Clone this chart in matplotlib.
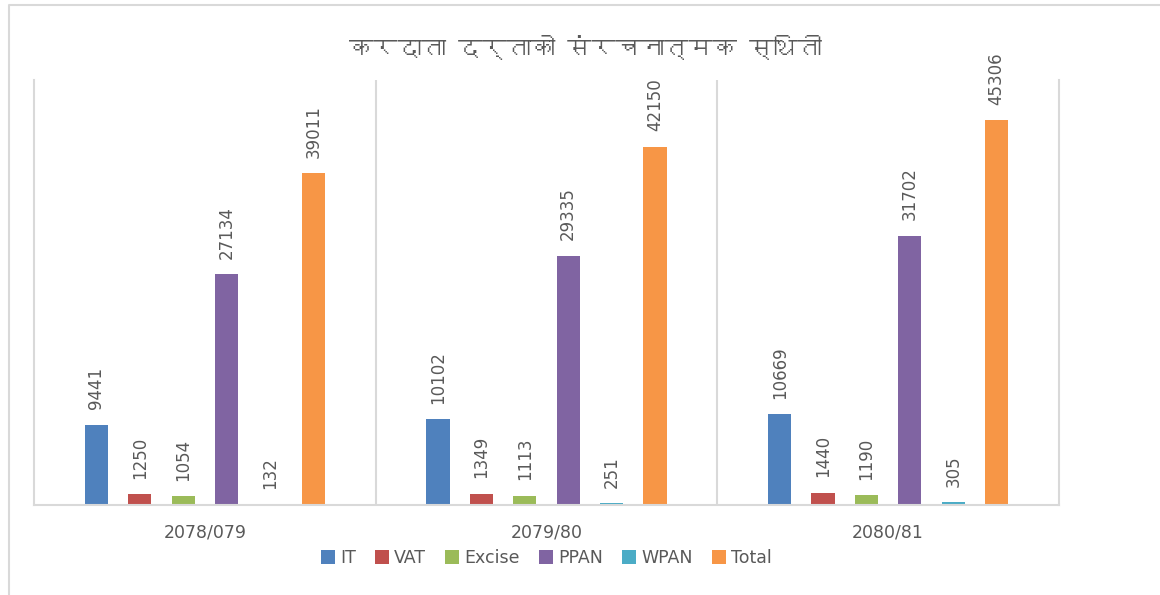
import matplotlib
matplotlib.use("Agg")
import matplotlib.pyplot as plt
from matplotlib import font_manager
from matplotlib.ft2font import FT2Font
from matplotlib.lines import Line2D
import numpy as np

years = ["2078/079", "2079/80", "2080/81"]
series = ["IT", "VAT", "Excise", "PPAN", "WPAN", "Total"]
it = [9441, 10102, 10669]
vat = [1250, 1349, 1440]
excise = [1054, 1113, 1190]
ppan = [27134, 29335, 31702]
wpan = [132, 251, 305]
total = [39011, 42150, 45306]
colors = ["#4F81BD", "#C0504D", "#9BBB59", "#8064A2", "#4BACC6", "#F79646"]
title = "करदाता दर्ताको संरचनात्मक स्थिती"

# find a font that can draw Devanagari, if any
deva = None
for f in font_manager.fontManager.ttflist:
    try:
        if FT2Font(f.fname).get_char_index(ord("क")):
            deva = f.name
            break
    except Exception:
        pass

grey = "#595959"
line = "#d9d9d9"

fig = plt.figure(figsize=(11.6, 5.95), dpi=100)
ax = fig.add_axes([34 / 1160, 1 - 505 / 595, 1025 / 1160, 425 / 595])

x = np.arange(len(years))
step = 0.127
width = 0.068
for i, (name, vals) in enumerate(zip(series, [it, vat, excise, ppan, wpan, total])):
    pos = x + (i - 2.5) * step
    bars = ax.bar(pos, vals, width, color=colors[i], label=name)
    for b, v in zip(bars, vals):
        ax.annotate(str(v), (b.get_x() + b.get_width() / 2, v), xytext=(0, 11),
                    textcoords="offset points", rotation=90, ha="center", va="bottom",
                    fontsize=12, color=grey)

ax.set_xlim(-0.5, 2.5)
ax.set_ylim(0, 50000)
ax.set_yticks([])
ax.set_xticks(x)
ax.set_xticklabels(years, fontsize=12.5, color=grey)
ax.tick_params(axis="x", length=0, pad=13)
ax.spines["top"].set_visible(False)
for s in ["left", "right", "bottom"]:
    ax.spines[s].set_color(line)
    ax.spines[s].set_linewidth(1.5)
for xv in [0.5, 1.5]:
    ax.axvline(xv, color=line, lw=1.5)

fam = [deva, "DejaVu Sans"] if deva else "DejaVu Sans"
fig.text(585 / 1160, 1 - 48 / 595, title, ha="center", va="center", fontsize=17.5, color=grey, family=fam)

ax.legend(loc="center", bbox_to_anchor=(0.4711, 1 - 558 / 595), bbox_transform=fig.transFigure,
          ncol=6, frameon=False, fontsize=12.5, handlelength=0.8, handleheight=0.8,
          handletextpad=0.3, columnspacing=1.1, labelcolor=grey)

# outer chart border
fig.add_artist(Line2D([9 / 1160, 9 / 1160, 1], [0, 1 - 5 / 595, 1 - 5 / 595],
                      transform=fig.transFigure, color=line, lw=1.5))

fig.savefig("out.png", dpi=100)
